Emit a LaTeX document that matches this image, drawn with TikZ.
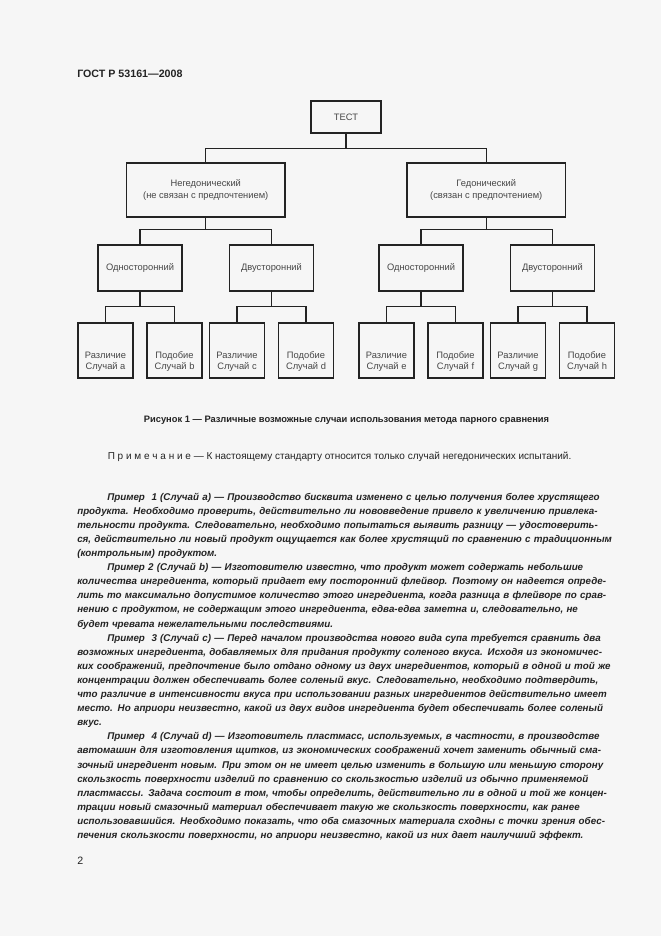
\documentclass[tikz,border=0pt]{standalone}
\usepackage{fontspec}
\setmainfont{Liberation Sans}
\usetikzlibrary{positioning}

\definecolor{paper}{RGB}{246,246,246}
\definecolor{ink}{RGB}{35,35,35}
\definecolor{boxtext}{RGB}{70,70,70}

% widths of the justified text lines
\newlength\bodyw \setlength\bodyw{403.5pt}
\newlength\firstw \setlength\firstw{381pt}
\newcommand\fullline[1]{\makebox[\bodyw][s]{#1}}
\newcommand\firstline[1]{\hspace*{22.5pt}\makebox[\firstw][s]{#1}}

\begin{document}
\begin{tikzpicture}[
    x=0.75pt, y=-0.75pt,
    box/.style={draw=ink, line width=0.9pt, align=center, inner sep=1pt,
      font=\fontsize{7}{8.3}\selectfont, text=boxtext},
    testbox/.style={box, minimum width=52.5pt, minimum height=24pt},
    groupbox/.style={box, minimum width=119pt, minimum height=40.5pt},
    sidebox/.style={box, minimum width=63pt, minimum height=34.5pt},
    casebox/.style={box, minimum width=41.25pt, minimum height=41.25pt,
      label={[casetext]center:#1}},
    casetext/.style={align=center, font=\fontsize{7}{7.8}\selectfont,
      text=boxtext, yshift=-8.3pt},
    link/.style={draw=ink, line width=0.9pt},
    body/.style={anchor=north west, inner sep=0pt, text width=\bodyw, align=left,
      font=\fontsize{7.35}{10.575}\selectfont\bfseries\itshape, text=ink}
  ]
  \fill[paper] (0,0) rectangle (661,936);
  \useasboundingbox (0,0) rectangle (661,936);

  % Page head
  \node[anchor=west, inner sep=0pt, text=ink, font=\fontsize{8}{9.6}\selectfont\bfseries]
    (head) at (77,74) {ГОСТ Р 53161—2008};

  % Root and the two groups
  \node[testbox] (test) at (346,117) {ТЕСТ};
  \node[groupbox] (neg) at (205.75,190) {Негедонический\\(не связан с предпочтением)};
  \node[groupbox] (hed) at (486.25,190) {Гедонический\\(связан с предпочтением)};

  % One-sided and two-sided tests
  \node[sidebox] (on1) at (140,268) {Односторонний};
  \node[sidebox] (dv1) at (271.5,268) {Двусторонний};
  \node[sidebox] (on2) at (421,268) {Односторонний};
  \node[sidebox] (dv2) at (552.5,268) {Двусторонний};

  % Cases a to h
  \node[casebox={Различие\\Случай a}] (ca) at (105.5,350.5) {};
  \node[casebox={Подобие\\Случай b}] (cb) at (174.5,350.5) {};
  \node[casebox={Различие\\Случай c}] (cc) at (237,350.5) {};
  \node[casebox={Подобие\\Случай d}] (cd) at (306,350.5) {};
  \node[casebox={Различие\\Случай e}] (ce) at (386.5,350.5) {};
  \node[casebox={Подобие\\Случай f}] (cf) at (455.5,350.5) {};
  \node[casebox={Различие\\Случай g}] (cg) at (518,350.5) {};
  \node[casebox={Подобие\\Случай h}] (ch) at (587,350.5) {};

  % Tree connectors
  \draw[link] (test.south) -- ++(0,14.5) coordinate (t0);
  \draw[link] (neg.north) |- (t0) -| (hed.north);
  \draw[link] (neg.south) -- ++(0,12) coordinate (n0);
  \draw[link] (on1.north) |- (n0) -| (dv1.north);
  \draw[link] (hed.south) -- ++(0,12) coordinate (h0);
  \draw[link] (on2.north) |- (h0) -| (dv2.north);
  \draw[link] (on1.south) -- ++(0,15) coordinate (o1);
  \draw[link] (ca.north) |- (o1) -| (cb.north);
  \draw[link] (dv1.south) -- ++(0,15) coordinate (d1);
  \draw[link] (cc.north) |- (d1) -| (cd.north);
  \draw[link] (on2.south) -- ++(0,15) coordinate (o2);
  \draw[link] (ce.north) |- (o2) -| (cf.north);
  \draw[link] (dv2.south) -- ++(0,15) coordinate (d2);
  \draw[link] (cg.north) |- (d2) -| (ch.north);

  % Caption and note
  \node[text=ink, font=\fontsize{7}{8.4}\selectfont\bfseries] (cap) at (346.5,420)
    {Рисунок 1 — Различные возможные случаи использования метода парного сравнения};
  \node[anchor=west, inner sep=0pt, text=ink, font=\fontsize{7.5}{9}\selectfont] (note) at (107.5,457)
    {П р и м е ч а н и е — К настоящему стандарту относится только случай негедонических испытаний.};

  % Examples
  \node[body] (examples) at (77,492.5) {%
    \firstline{Пример~ 1 (Случай a) — Производство бисквита изменено с целью получения более хрустящего}\\
    \fullline{продукта. Необходимо проверить, действительно ли нововведение привело к увеличению привлека-}\\
    \fullline{тельности продукта. Следовательно, необходимо попытаться выявить разницу — удостоверить-}\\
    \fullline{ся, действительно ли новый продукт ощущается как более хрустящий по сравнению с традиционным}\\
    (контрольным) продуктом.\\
    \firstline{Пример 2 (Случай b) — Изготовителю известно, что продукт может содержать небольшие}\\
    \fullline{количества ингредиента, который придает ему посторонний флейвор. Поэтому он надеется опреде-}\\
    \fullline{лить то максимально допустимое количество этого ингредиента, когда разница в флейворе по срав-}\\
    \fullline{нению с продуктом, не содержащим этого ингредиента, едва-едва заметна и, следовательно, не}\\
    будет чревата нежелательными последствиями.\\
    \firstline{Пример~ 3 (Случай c) — Перед началом производства нового вида супа требуется сравнить два}\\
    \fullline{возможных ингредиента, добавляемых для придания продукту соленого вкуса. Исходя из экономичес-}\\
    \fullline{ких соображений, предпочтение было отдано одному из двух ингредиентов, который в одной и той же}\\
    \fullline{концентрации должен обеспечивать более соленый вкус. Следовательно, необходимо подтвердить,}\\
    \fullline{что различие в интенсивности вкуса при использовании разных ингредиентов действительно имеет}\\
    \fullline{место. Но априори неизвестно, какой из двух видов ингредиента будет обеспечивать более соленый}\\
    вкус.\\
    \firstline{Пример~ 4 (Случай d) — Изготовитель пластмасс, используемых, в частности, в производстве}\\
    \fullline{автомашин для изготовления щитков, из экономических соображений хочет заменить обычный сма-}\\
    \fullline{зочный ингредиент новым. При этом он не имеет целью изменить в большую или меньшую сторону}\\
    \fullline{скользкость поверхности изделий по сравнению со скользкостью изделий из обычно применяемой}\\
    \fullline{пластмассы. Задача состоит в том, чтобы определить, действительно ли в одной и той же концен-}\\
    \fullline{трации новый смазочный материал обеспечивает такую же скользкость поверхности, как ранее}\\
    \fullline{использовавшийся. Необходимо показать, что оба смазочных материала сходны с точки зрения обес-}\\
    печения скользкости поверхности, но априори неизвестно, какой из них дает наилучший эффект.};

  % Page number
  \node[anchor=west, inner sep=0pt, text=ink, font=\fontsize{8}{9.6}\selectfont] (pagenum) at (77,861) {2};
\end{tikzpicture}
\end{document}
